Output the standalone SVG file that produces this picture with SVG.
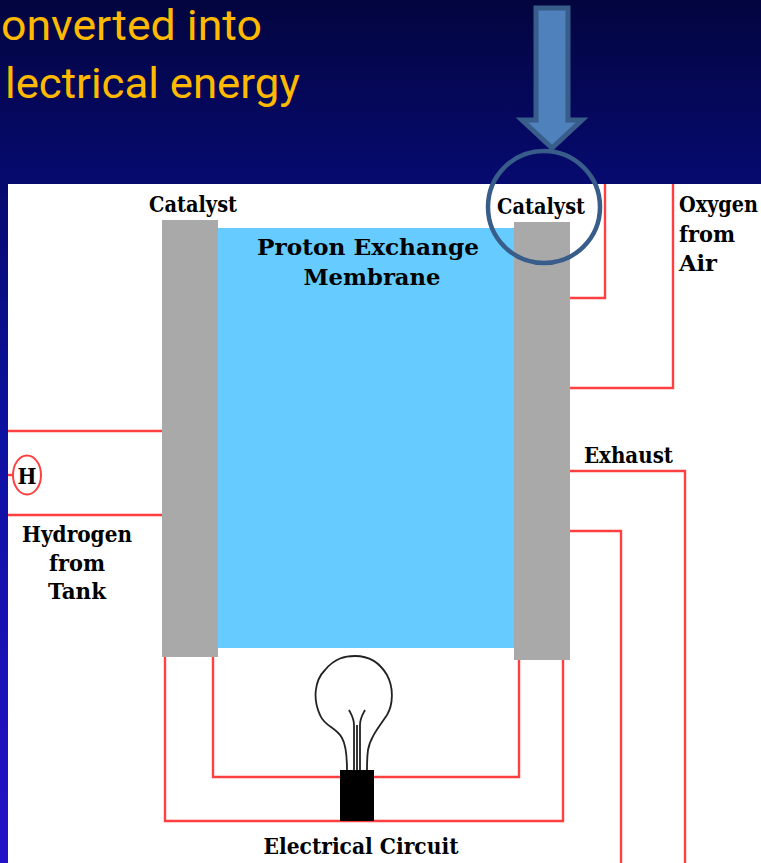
<svg xmlns="http://www.w3.org/2000/svg" width="761" height="863" viewBox="0 0 761 863">
<defs>
<linearGradient id="bg" x1="0" y1="0" x2="0" y2="863" gradientUnits="userSpaceOnUse">
<stop offset="0" stop-color="#03053f"/>
<stop offset="0.21" stop-color="#060a6e"/>
<stop offset="0.5" stop-color="#0d11a0"/>
<stop offset="1" stop-color="#2412c8"/>
</linearGradient>
</defs>
<style>
.title{font-family:"Roboto","Open Sans",sans-serif;font-size:42px;fill:#ffb900}
.lab{font-family:"DejaVu Serif","Liberation Serif",serif;font-weight:bold;font-stretch:condensed;font-size:22.5px;fill:#000}
.wire{fill:none;stroke:#ff4040;stroke-width:2.4}
.gray{fill:#a9a9a9}
.bulb{fill:none;stroke:#222;stroke-width:1.8}
</style>
<rect width="761" height="863" fill="url(#bg)"/>
<text class="title" x="1" y="40" textLength="261" lengthAdjust="spacingAndGlyphs">onverted into</text>
<text class="title" x="5" y="98" textLength="295" lengthAdjust="spacingAndGlyphs">lectrical energy</text>
<rect x="8" y="184" width="753" height="679" fill="#fff"/>
<g id="connectors">
<path class="wire" d="M605 184V298H570"/>
<path class="wire" d="M673 184V388H570"/>
<path class="wire" d="M570 471H685V863"/>
<path class="wire" d="M570 531H621V863"/>
<path class="wire" d="M8 431H162"/>
<path class="wire" d="M8 515H162"/>
<path class="wire" d="M8 475H13"/>
<path class="wire" d="M165 657V821H563V660"/>
<path class="wire" d="M213 657V777H519V660"/>
</g>
<g id="membrane">
<rect x="218" y="228" width="296" height="420" fill="#66ccff"/>
<text class="lab" x="368" y="255" text-anchor="middle" textLength="222" lengthAdjust="spacingAndGlyphs">Proton Exchange</text>
<text class="lab" x="372" y="285" text-anchor="middle" textLength="137" lengthAdjust="spacingAndGlyphs">Membrane</text>
</g>
<g id="catalyst-left">
<rect class="gray" x="162" y="220" width="56" height="437"/>
<text class="lab" x="193" y="212" text-anchor="middle" textLength="88" lengthAdjust="spacingAndGlyphs">Catalyst</text>
</g>
<g id="catalyst-right">
<rect class="gray" x="514" y="222" width="56" height="438"/>
<text class="lab" x="541" y="214" text-anchor="middle" textLength="88" lengthAdjust="spacingAndGlyphs">Catalyst</text>
</g>
<g id="oxygen">
<text class="lab" x="679" y="212" textLength="79" lengthAdjust="spacingAndGlyphs">Oxygen</text>
<text class="lab" x="679" y="242" textLength="56" lengthAdjust="spacingAndGlyphs">from</text>
<text class="lab" x="679" y="271" textLength="38" lengthAdjust="spacingAndGlyphs">Air</text>
</g>
<g id="exhaust">
<text class="lab" x="584" y="463" textLength="89" lengthAdjust="spacingAndGlyphs">Exhaust</text>
</g>
<g id="hydrogen">
<ellipse cx="27" cy="475" rx="14" ry="19.5" fill="#fff" stroke="#ff4040" stroke-width="2"/>
<text class="lab" x="27" y="484" text-anchor="middle" textLength="19" lengthAdjust="spacingAndGlyphs">H</text>
<text class="lab" x="77" y="542" text-anchor="middle" textLength="110" lengthAdjust="spacingAndGlyphs">Hydrogen</text>
<text class="lab" x="77" y="571" text-anchor="middle" textLength="56" lengthAdjust="spacingAndGlyphs">from</text>
<text class="lab" x="77" y="599" text-anchor="middle" textLength="58" lengthAdjust="spacingAndGlyphs">Tank</text>
</g>
<g id="bulb">
<path class="bulb" d="M347 770C347 755 346 745 342 738C336 727 325 727 320 715C313 700 314 681 325 670C335 658 345 656 355 656C370 656 380 663 387 675C394 688 393 705 387 715C378 728 370 738 368 750C367 757 367 765 367 770"/>
<path class="bulb" d="M354 770V725C354 718 351 714 349 710M357 770V725M360 770V725C360 718 363 714 365 710"/>
<rect x="340" y="770" width="34" height="51" fill="#000"/>
<text class="lab" x="361" y="854" text-anchor="middle" textLength="195" lengthAdjust="spacingAndGlyphs">Electrical Circuit</text>
</g>
<g id="callout">
<path d="M536 8H568V120H582L552 148L522 120H536Z" fill="#4f81bd" stroke="#385d8a" stroke-width="5"/>
<circle cx="544" cy="207" r="56" fill="none" stroke="#385d8a" stroke-width="4.5"/>
</g>
</svg>
